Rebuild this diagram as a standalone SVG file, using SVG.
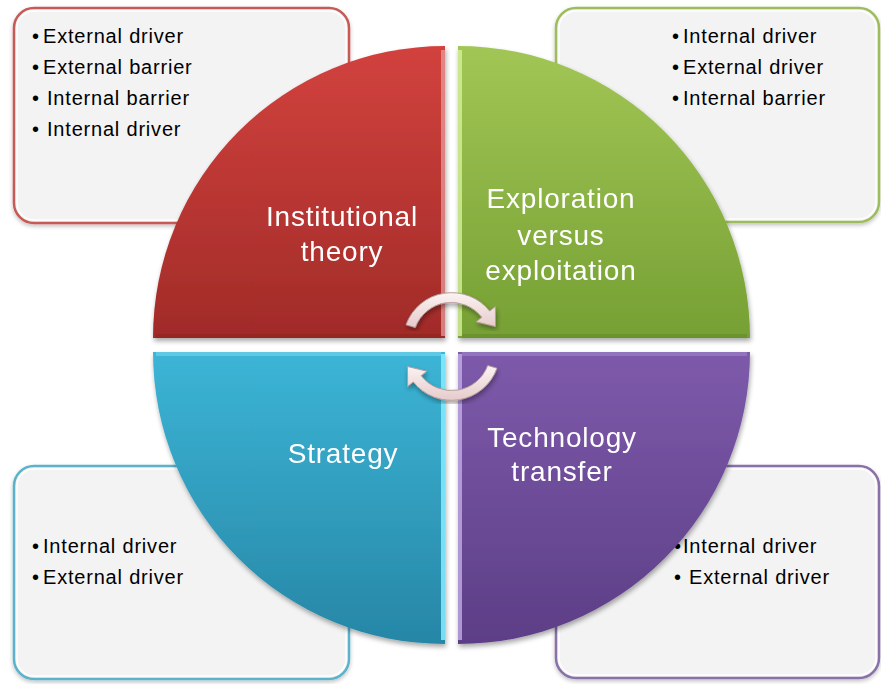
<svg xmlns="http://www.w3.org/2000/svg" width="881" height="684" viewBox="0 0 881 684">
  <defs>
    <linearGradient id="gRed" x1="0" y1="0" x2="0" y2="1">
      <stop offset="0" stop-color="#d2423e"/>
      <stop offset="1" stop-color="#a12b28"/>
    </linearGradient>
    <linearGradient id="gGreen" x1="0" y1="0" x2="0" y2="1">
      <stop offset="0" stop-color="#a2c655"/>
      <stop offset="1" stop-color="#76a034"/>
    </linearGradient>
    <linearGradient id="gBlue" x1="0" y1="0" x2="0" y2="1">
      <stop offset="0" stop-color="#3cb5d6"/>
      <stop offset="1" stop-color="#2786a6"/>
    </linearGradient>
    <linearGradient id="gPurple" x1="0" y1="0" x2="0" y2="1">
      <stop offset="0" stop-color="#7e5aab"/>
      <stop offset="1" stop-color="#5c3e86"/>
    </linearGradient>
    <linearGradient id="gArrow" x1="0" y1="0" x2="0" y2="1">
      <stop offset="0" stop-color="#fbf3f3"/>
      <stop offset="1" stop-color="#e6cbcb"/>
    </linearGradient>
    <filter id="shadow" x="-10%" y="-10%" width="120%" height="120%">
      <feGaussianBlur in="SourceAlpha" stdDeviation="2.5"/>
      <feOffset dx="1" dy="3" result="b"/>
      <feComponentTransfer><feFuncA type="linear" slope="0.35"/></feComponentTransfer>
      <feMerge><feMergeNode/><feMergeNode in="SourceGraphic"/></feMerge>
    </filter>
    <filter id="boxShadow" x="-10%" y="-10%" width="120%" height="120%">
      <feGaussianBlur in="SourceAlpha" stdDeviation="2"/>
      <feOffset dx="0" dy="2" result="b"/>
      <feComponentTransfer><feFuncA type="linear" slope="0.25"/></feComponentTransfer>
      <feMerge><feMergeNode/><feMergeNode in="SourceGraphic"/></feMerge>
    </filter>
  </defs>
  <style>
    .box { fill: #f3f3f3; stroke-width: 2.5; filter: url(#boxShadow); }
    .inner { fill: none; stroke: #ffffff; stroke-width: 1.5; opacity: 0.9; }
    .item { font-family: "Liberation Sans", Arial, sans-serif; font-size: 20px; letter-spacing: 0.8px; fill: #000000; }
    .label { font-family: "Liberation Sans", Arial, sans-serif; font-size: 28px; letter-spacing: 0.8px; fill: #ffffff; text-anchor: middle; }
    .quad { filter: url(#shadow); }
    .hl { fill: none; stroke-width: 4; stroke-linecap: butt; }
    .arrow { fill: url(#gArrow); stroke: #b89c9c; stroke-width: 1; stroke-linejoin: round; filter: url(#shadow); }
  </style>

  <!-- Corner text boxes -->
  <g id="box-institutional">
    <rect class="box" x="14" y="8" width="335" height="215" rx="20" stroke="#c65a57"/>
    <rect class="inner" x="17" y="11" width="329" height="209" rx="17"/>
    <text class="item" x="32" y="43">•<tspan x="43">External driver</tspan></text>
    <text class="item" x="32" y="74">•<tspan x="43">External barrier</tspan></text>
    <text class="item" x="32" y="105">•<tspan x="47">Internal barrier</tspan></text>
    <text class="item" x="32" y="136">•<tspan x="47">Internal driver</tspan></text>
  </g>
  <g id="box-exploration">
    <rect class="box" x="556" y="8" width="323" height="214" rx="20" stroke="#9dbd5b"/>
    <rect class="inner" x="559" y="11" width="317" height="208" rx="17"/>
    <text class="item" x="672" y="43">•<tspan x="683">Internal driver</tspan></text>
    <text class="item" x="672" y="74">•<tspan x="683">External driver</tspan></text>
    <text class="item" x="672" y="105">•<tspan x="683">Internal barrier</tspan></text>
  </g>
  <g id="box-strategy">
    <rect class="box" x="14" y="466" width="335" height="213" rx="20" stroke="#5bb2cb"/>
    <rect class="inner" x="17" y="469" width="329" height="207" rx="17"/>
    <text class="item" x="32" y="553">•<tspan x="43">Internal driver</tspan></text>
    <text class="item" x="32" y="584">•<tspan x="43">External driver</tspan></text>
  </g>
  <g id="box-technology">
    <rect class="box" x="556" y="466" width="323" height="212" rx="20" stroke="#8870a8"/>
    <rect class="inner" x="559" y="469" width="317" height="206" rx="17"/>
    <text class="item" x="674" y="553">•<tspan x="683">Internal driver</tspan></text>
    <text class="item" x="674" y="584">•<tspan x="689">External driver</tspan></text>
  </g>

  <!-- Quarter-circle segments -->
  <g id="quad-institutional" class="quad">
    <path d="M445 338 L153 338 A292 292 0 0 1 445 46 Z" fill="url(#gRed)"/>
    <path class="hl" d="M443 50 L443 336" stroke="#e9a3a1" opacity="0.7"/>
    <path class="hl" d="M156 336 L441 336" stroke="#7f1f1d" opacity="0.35"/>
    <text class="label" x="342" y="226">Institutional</text>
    <text class="label" x="342" y="261">theory</text>
  </g>
  <g id="quad-exploration" class="quad">
    <path d="M458 338 L458 46 A292 292 0 0 1 750 338 Z" fill="url(#gGreen)"/>
    <path class="hl" d="M460 50 L460 336" stroke="#d4f09a" opacity="0.8"/>
    <path class="hl" d="M462 336 L747 336" stroke="#557a22" opacity="0.35"/>
    <text class="label" x="561" y="208">Exploration</text>
    <text class="label" x="561" y="245">versus</text>
    <text class="label" x="561" y="280">exploitation</text>
  </g>
  <g id="quad-strategy" class="quad">
    <path d="M445 352 L445 644 A292 292 0 0 1 153 352 Z" fill="url(#gBlue)"/>
    <path class="hl" d="M443 354 L443 640" stroke="#86ecff" opacity="0.85"/>
    <path class="hl" d="M156 354 L441 354" stroke="#7fdcf2" opacity="0.5"/>
    <text class="label" x="343" y="463">Strategy</text>
  </g>
  <g id="quad-technology" class="quad">
    <path d="M458 352 L750 352 A292 292 0 0 1 458 644 Z" fill="url(#gPurple)"/>
    <path class="hl" d="M460 354 L460 640" stroke="#c2aee6" opacity="0.8"/>
    <path class="hl" d="M462 354 L747 354" stroke="#a58bcf" opacity="0.5"/>
    <text class="label" x="562" y="447">Technology</text>
    <text class="label" x="562" y="481">transfer</text>
  </g>

  <!-- Circular arrows in the middle -->
  <g id="connectors">
    <path class="arrow" d="M406 324.8 A48.5 48.5 0 0 1 489.7 311.1 L495.4 306.5 L495.5 326.5 L476.1 321.8 L481.8 317.3 A38.5 38.5 0 0 0 415.3 327.5 Z"/>
    <path class="arrow" d="M497 368.2 A48.5 48.5 0 0 1 413.3 381.9 L407.6 386.5 L407.5 366.5 L426.9 371.2 L421.2 375.7 A38.5 38.5 0 0 0 487.7 365.5 Z"/>
  </g>
</svg>
